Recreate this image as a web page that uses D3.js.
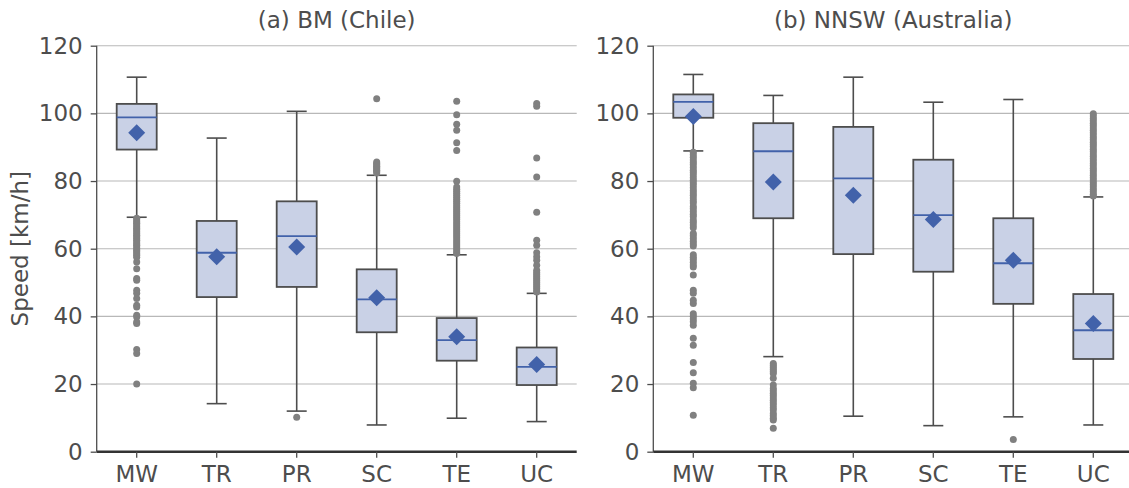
<!DOCTYPE html>
<html>
<head>
<meta charset="utf-8">
<script src="https://cdn.jsdelivr.net/npm/d3@7"></script>
<style>
  body { margin: 0; background: #fff; }
  text { font-family: "DejaVu Sans", sans-serif; }
</style>
</head>
<body>
<svg id="chart" width="1129" height="488"></svg>
<script>
const categories = ["MW", "TR", "PR", "SC", "TE", "UC"];
const yTicks = [0, 20, 40, 60, 80, 100, 120];

// (a) BM (Chile)
const bmWhiskLo = [69.3, 14.2, 12.0, 7.9, 9.9, 8.9];
const bmQ1 = [89.3, 45.7, 48.7, 35.3, 26.9, 19.7];
const bmMedian = [98.8, 58.8, 63.7, 45.0, 33.0, 25.1];
const bmQ3 = [102.8, 68.2, 74.0, 53.9, 39.5, 30.8];
const bmWhiskHi = [110.7, 92.7, 100.6, 81.7, 58.2, 46.8];
const bmMean = [94.3, 57.6, 60.5, 45.5, 34.0, 25.8];
const bmOutliers = [
  [69, 68.5, 68, 67.5, 67, 66.5, 66, 65.5, 65, 64.5, 64, 63.5, 63, 62.5, 62, 61.5, 61, 60.5, 60,
   59.5, 59, 58.5, 58, 57.5, 56.1, 54.1, 51.2, 50.7, 47.7, 46.8, 45.3, 43.3, 42.8, 40.3, 39.8,
   38.3, 37.9, 30.2, 29.0, 20.0],
  [],
  [10.2],
  [104.3, 85.6, 85.2, 84.8, 84.4, 84.0, 83.6, 83.2, 82.8, 82.4],
  [103.6, 99.6, 96.8, 95.0, 91.3, 89.0, 79.9, 78.2, 77.6, 77.0, 76.4, 75.8, 75.2, 74.6, 74.0,
   73.4, 72.8, 72.2, 71.6, 71.0, 70.4, 69.8, 69.2, 68.6, 68.0, 67.4, 66.8, 66.2, 65.6, 65.0,
   64.4, 63.8, 63.2, 62.6, 62.0, 61.4, 60.8, 60.2, 59.6, 59.0, 58.6],
  [102.9, 102.1, 86.8, 81.2, 70.8, 62.5, 61.0, 58.8, 57.6, 56.6, 55.1, 53.6, 53.0, 52.4, 51.8,
   51.2, 50.6, 50.0, 49.4, 48.8, 48.2, 47.6, 47.2]
];

// (b) NNSW (Australia)
const nsWhiskLo = [88.9, 28.1, 10.5, 7.7, 10.3, 7.9];
const nsQ1 = [98.7, 69.0, 58.4, 53.2, 43.7, 27.4];
const nsMedian = [103.4, 88.8, 80.8, 69.9, 55.7, 35.9];
const nsQ3 = [105.6, 97.1, 96.0, 86.3, 69.0, 46.6];
const nsWhiskHi = [111.5, 105.3, 110.7, 103.3, 104.1, 75.3];
const nsMean = [99.1, 79.7, 75.8, 68.6, 56.6, 37.9];
const nsOutliers = [
  [88.5, 87.8, 87.0, 86.2, 85.5, 84.8, 84.0, 83.2, 82.5, 81.8, 81.0, 80.2, 79.5, 78.8, 78.0,
   77.2, 76.5, 75.8, 75.0, 74.2, 73.5, 72.5, 71.8, 71.0, 70.2, 69.5, 68.5, 67.8, 67.0, 66.2,
   64.5, 63.8, 63.0, 62.2, 61.5, 60.8, 58.2, 57.5, 56.8, 56.0, 55.2, 54.6, 52.2, 47.7, 46.8,
   44.8, 43.8, 40.8, 40.0, 39.2, 38.4, 37.4, 33.5, 31.5, 26.4, 23.3, 20.2, 18.9, 10.8],
  [26.1, 25.5, 24.9, 24.3, 23.7, 23.1, 21.7, 19.7, 18.7, 18.0, 17.3, 16.6, 15.9, 15.2, 14.5,
   13.8, 13.0, 12.3, 11.3, 10.6, 9.9, 9.4, 6.9],
  [],
  [],
  [3.6],
  [99.9, 99.2, 98.5, 97.8, 97.1, 96.4, 95.7, 95.0, 94.3, 93.6, 92.9, 92.2, 91.5, 90.8, 90.1,
   89.4, 88.7, 88.0, 87.3, 86.6, 85.9, 85.2, 84.5, 83.8, 83.1, 82.4, 81.7, 81.0, 80.3, 79.6,
   78.9, 78.2, 77.5, 76.8, 76.1, 75.6]
];

const panels = [
  { title: "(a) BM (Chile)", left: 96.7, lo: bmWhiskLo, q1: bmQ1, med: bmMedian, q3: bmQ3, hi: bmWhiskHi, mean: bmMean, out: bmOutliers },
  { title: "(b) NNSW (Australia)", left: 653.3, lo: nsWhiskLo, q1: nsQ1, med: nsMedian, q3: nsQ3, hi: nsWhiskHi, mean: nsMean, out: nsOutliers }
];

const panelWidth = 480;
const plotTop = 45.7, plotBottom = 451.7;
const fontSize = "23px";
const textColor = "#4d4d4d";
const lineColor = "#4d4d4d";
const boxFill = "#c9d1e6";
const blue = "#4262aa";
const pointGray = "#808080";

const svg = d3.select("#chart");

const y = d3.scaleLinear().domain([0, 120]).range([plotBottom, plotTop]);

panels.forEach((p) => {
  const x = d3.scaleBand()
    .domain(categories)
    .range([p.left, p.left + panelWidth])
    .padding(0);
  const bw = x.bandwidth();
  const boxW = bw * 0.5;
  const capW = bw * 0.25;
  const cx = (c) => x(c) + bw / 2;

  const g = svg.append("g");

  // gridlines
  g.selectAll("line.grid")
    .data(yTicks.filter((t) => t > 0))
    .enter()
    .append("line")
    .attr("class", "grid")
    .attr("x1", p.left)
    .attr("x2", p.left + panelWidth)
    .attr("y1", (d) => y(d))
    .attr("y2", (d) => y(d))
    .attr("stroke", "#b8b8b8")
    .attr("stroke-width", 1.1);

  // y axis
  const yAxis = g.append("g")
    .attr("transform", `translate(${p.left},0)`)
    .call(d3.axisLeft(y).tickValues(yTicks).tickSize(6).tickPadding(8).tickFormat(d3.format("d")));
  yAxis.select(".domain").attr("stroke", lineColor).attr("stroke-width", 1.3)
    .attr("d", `M0,${plotBottom}V${plotTop}`);
  yAxis.selectAll(".tick line").attr("stroke", lineColor).attr("stroke-width", 1.3);
  yAxis.selectAll(".tick text").attr("fill", textColor).style("font-size", fontSize);

  // x axis
  const xAxis = g.append("g")
    .attr("transform", `translate(0,${plotBottom})`)
    .call(d3.axisBottom(x).tickSize(6).tickPadding(8));
  xAxis.select(".domain").attr("stroke", "#333").attr("stroke-width", 2.5)
    .attr("d", `M${p.left},0H${p.left + panelWidth}`);
  xAxis.selectAll(".tick line").attr("stroke", lineColor).attr("stroke-width", 1.3);
  xAxis.selectAll(".tick text").attr("fill", textColor).style("font-size", fontSize);

  const idx = categories.map((c, i) => i);

  // whiskers
  g.selectAll("line.whisk-lo")
    .data(idx).enter().append("line")
    .attr("x1", (i) => cx(categories[i])).attr("x2", (i) => cx(categories[i]))
    .attr("y1", (i) => y(p.lo[i])).attr("y2", (i) => y(p.q1[i]))
    .attr("stroke", lineColor).attr("stroke-width", 1.6);
  g.selectAll("line.whisk-hi")
    .data(idx).enter().append("line")
    .attr("x1", (i) => cx(categories[i])).attr("x2", (i) => cx(categories[i]))
    .attr("y1", (i) => y(p.hi[i])).attr("y2", (i) => y(p.q3[i]))
    .attr("stroke", lineColor).attr("stroke-width", 1.6);
  ["lo", "hi"].forEach((k) => {
    g.selectAll(`line.cap-${k}`)
      .data(idx).enter().append("line")
      .attr("x1", (i) => cx(categories[i]) - capW / 2).attr("x2", (i) => cx(categories[i]) + capW / 2)
      .attr("y1", (i) => y(p[k][i])).attr("y2", (i) => y(p[k][i]))
      .attr("stroke", lineColor).attr("stroke-width", 1.6);
  });

  // boxes
  g.selectAll("rect.box")
    .data(idx).enter().append("rect")
    .attr("x", (i) => cx(categories[i]) - boxW / 2)
    .attr("width", boxW)
    .attr("y", (i) => y(p.q3[i]))
    .attr("height", (i) => y(p.q1[i]) - y(p.q3[i]))
    .attr("fill", boxFill)
    .attr("stroke", lineColor)
    .attr("stroke-width", 1.8);

  // median
  g.selectAll("line.median")
    .data(idx).enter().append("line")
    .attr("x1", (i) => cx(categories[i]) - boxW / 2).attr("x2", (i) => cx(categories[i]) + boxW / 2)
    .attr("y1", (i) => y(p.med[i])).attr("y2", (i) => y(p.med[i]))
    .attr("stroke", blue).attr("stroke-width", 1.8);

  // outliers
  const pts = [];
  p.out.forEach((vals, i) => vals.forEach((v) => pts.push({ c: categories[i], v })));
  g.selectAll("circle.out")
    .data(pts).enter().append("circle")
    .attr("cx", (d) => cx(d.c))
    .attr("cy", (d) => y(d.v))
    .attr("r", 3.5)
    .attr("fill", pointGray);

  // means
  const dm = 8.5;
  g.selectAll("path.mean")
    .data(idx).enter().append("path")
    .attr("d", (i) => {
      const mx = cx(categories[i]), my = y(p.mean[i]);
      return `M${mx},${my - dm}L${mx + dm},${my}L${mx},${my + dm}L${mx - dm},${my}Z`;
    })
    .attr("fill", blue);

  // title
  g.append("text")
    .attr("x", p.left + panelWidth / 2)
    .attr("y", 28)
    .attr("text-anchor", "middle")
    .attr("fill", textColor)
    .style("font-size", fontSize)
    .text(p.title);
});

svg.append("text")
  .attr("transform", `translate(28,${(plotTop + plotBottom) / 2}) rotate(-90)`)
  .attr("text-anchor", "middle")
  .attr("fill", textColor)
  .style("font-size", fontSize)
  .text("Speed [km/h]");
</script>
</body>
</html>
